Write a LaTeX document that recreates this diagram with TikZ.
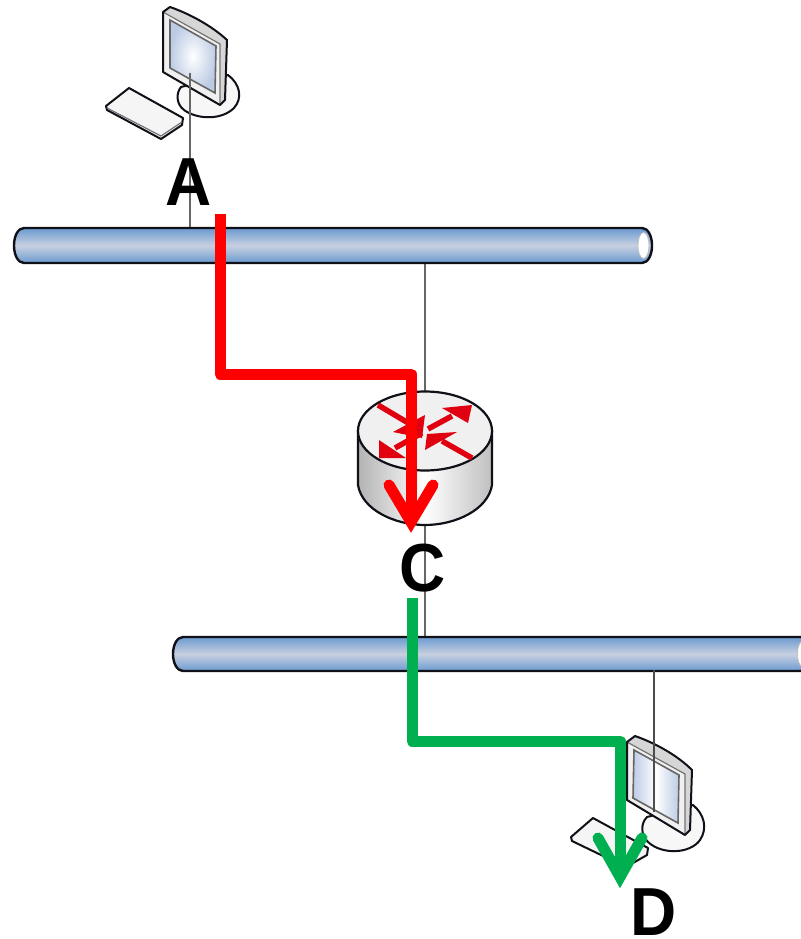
\documentclass[tikz,border=0pt]{standalone}
\usepackage{fontspec}
\setmainfont{Liberation Sans}
\usetikzlibrary{calc}
\definecolor{busblue}{HTML}{6A9AD0}
\definecolor{busmid}{HTML}{C8D0E0}
\definecolor{routeRed}{HTML}{E0000F}
\definecolor{pathRed}{HTML}{FF0000}
\definecolor{pathGreen}{HTML}{00B050}
\definecolor{ink}{HTML}{101018}
\definecolor{screenedge}{HTML}{BCCBE4}
\tikzset{
  x=1pt,y=-1pt,
  wire/.style={draw=black!60,line width=1.1pt},
  busbody/.style={draw=ink,line width=2.4pt,top color=busblue,bottom color=busblue,middle color=busmid},
  label/.style={font=\bfseries\fontsize{68}{68}\selectfont,inner sep=0pt,text=black,xscale=0.94,transform shape},
  devline/.style={draw=ink,line width=2pt,line join=round},
  route/.style={line width=11pt,line join=round,line cap=round},
  routehead/.style={line width=11pt,line join=miter,miter limit=10,line cap=round},
  rline/.style={draw=routeRed,line width=5.5pt},
  rh/.style={fill=routeRed,draw=none},
}
\begin{document}
\begin{tikzpicture}
\useasboundingbox (0,0) rectangle (800,939);
\fill[white] (0,0) rectangle (800,939);

% computer A: keyboard
\filldraw[devline,fill=black!4] (106,106) -- (129,88) -- (183,118) -- (182,125) -- (161,139) -- (107,110) -- cycle;
\draw[black!55,line width=1.2pt] (107,108) -- (161,136) -- (182,122);
% computer A: stand
\filldraw[devline,fill=black!3] (181,87) .. controls (176,93) and (176,104) .. (184,110) .. controls (198,120) and (222,120) .. (234,108) .. controls (243,98) and (240,84) .. (228,75) -- cycle;
% computer A: monitor
\filldraw[fill=black!16,draw=none] (163,12) -- (170,7) .. controls (190,14) and (212,26) .. (227,40) -- (225,100) -- (220,105) -- (163,72) -- cycle;
\fill[black!6] (163,12) -- (220,44) -- (220,105) -- (163,72) -- cycle;
\draw[black!55,line width=1.2pt] (163,12) -- (220,44) -- (220,105);
\draw[devline] (163,12) -- (170,7) .. controls (190,14) and (212,26) .. (227,40) -- (225,100) -- (220,105) -- (163,72) -- cycle;
\shade[inner color=white,outer color=screenedge,draw=black!60,line width=1.6pt] (170,20) -- (216,46) -- (215,93) -- (170,68) -- cycle;

% wires
\coordinate (wAtop) at (190,73);
\coordinate (wAbot) at (190,232);
\draw[wire] (wAtop) -- (wAbot);
\coordinate (wCtop) at (425,262);
\coordinate (wCmid) at (425,395);
\draw[wire] (wCtop) -- (wCmid);
\coordinate (wC2top) at (425,524);
\coordinate (wC2bot) at (425,638);
\draw[wire] (wC2top) -- (wC2bot);

% bus 1
\path[busbody] (24,228) -- (642,228) .. controls (648,228) and (652,236) .. (652,245.5) .. controls (652,255) and (648,263) .. (642,263) -- (24,263) .. controls (18,263) and (14,255) .. (14,245.5) .. controls (14,236) and (18,228) .. (24,228) -- cycle;
\filldraw[fill=white,draw=black!25,line width=0.8pt] (643.5,245.5) ellipse[x radius=5.5,y radius=13];
% bus 2
\path[busbody] (183,637) -- (802,637) .. controls (808,637) and (812,645) .. (812,654) .. controls (812,663) and (808,671) .. (802,671) -- (183,671) .. controls (177,671) and (173,663) .. (173,654) .. controls (173,645) and (177,637) .. (183,637) -- cycle;
\filldraw[fill=white,draw=black!25,line width=0.8pt] (803,654) ellipse[x radius=5.5,y radius=13];

% router
\shade[left color=black!30,right color=black!25,middle color=white,draw=ink,line width=2.2pt]
  (358,431) -- (358,485) .. controls (362,510) and (395,525) .. (425,525) .. controls (455,525) and (488,510) .. (492,485) -- (492,431) -- cycle;
\filldraw[fill=black!6,draw=ink,line width=2.2pt] (425,431) ellipse[x radius=67,y radius=39.5];
% router arrows
\draw[rline] (378,405) -- (410,424);
\path[rh] (425,415) -- (393,432) -- (422,438) -- cycle;
\draw[rline] (422,433) -- (395,448);
\path[rh] (379,440) -- (379,458) -- (406,458) -- cycle;
\draw[rline] (428,429) -- (452,416);
\path[rh] (472,405) -- (442,408) -- (468,423) -- cycle;
\draw[rline] (472,458) -- (442,441);
\path[rh] (425,450) -- (427,434) -- (457,432) -- cycle;

% computer D
\filldraw[devline,fill=black!4] (571,837) -- (593,818) -- (648,848) -- (647,855) -- (626,867) -- (572,841) -- cycle;
\filldraw[devline,fill=black!3] (647,817) .. controls (641,823) and (640,834) .. (648,842) .. controls (662,855) and (690,854) .. (700,840) .. controls (708,828) and (704,814) .. (693,805) -- cycle;
\filldraw[fill=black!16,draw=none] (627,742) -- (635,736) .. controls (655,743) and (677,755) .. (692,770) -- (690,830) -- (685,835) -- (627,800) -- cycle;
\fill[black!6] (627,742) -- (685,774) -- (685,835) -- (627,800) -- cycle;
\draw[black!55,line width=1.2pt] (627,742) -- (685,774) -- (685,835);
\draw[devline] (627,742) -- (635,736) .. controls (655,743) and (677,755) .. (692,770) -- (690,830) -- (685,835) -- (627,800) -- cycle;
\shade[left color=screenedge,right color=screenedge,middle color=white,draw=black!60,line width=1.6pt] (634,750) -- (679,775) -- (678,823) -- (633,798) -- cycle;
\coordinate (wDtop) at (654,670);
\coordinate (wDbot) at (654,812);
\draw[draw=black!70,line width=1.1pt] (wDtop) -- (wDbot);

% labels
\node[label] (A) at (188.5,182) {A};
\node[label] (C) at (423,568) {C};
\node[label] (D) at (653.5,912) {D};

% red route
\coordinate (r0) at (220,214);
\coordinate (r1) at (220,374);
\coordinate (r2) at (411,374);
\coordinate (r3) at (411,515);
\coordinate (rtip) at (411,522);
\draw[route,draw=pathRed,line cap=butt] (r0) -- (r1) -- (r2) -- (r3);
\draw[routehead,draw=pathRed] (389,485) -- (rtip) -- (433,485);

% green route
\coordinate (g0) at (412,598);
\coordinate (g1) at (412,741);
\coordinate (g2) at (620,741);
\coordinate (g3) at (620,870);
\coordinate (gtip) at (620,877);
\draw[route,draw=pathGreen,line cap=butt] (g0) -- (g1) -- (g2) -- (g3);
\draw[routehead,draw=pathGreen] (598,838) -- (gtip) -- (642,838);
\end{tikzpicture}
\end{document}
